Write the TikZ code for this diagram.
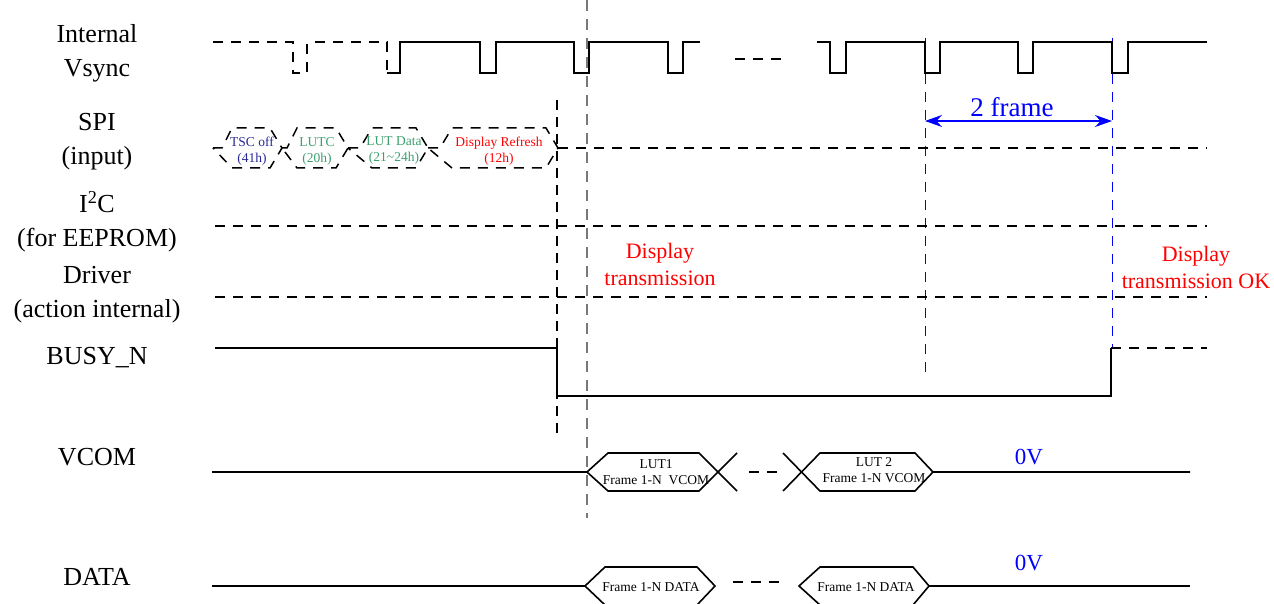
\documentclass[tikz,border=0pt]{standalone}
\usepackage{fontspec}
\setmainfont{Liberation Serif}
\usepackage{xcolor}
\usetikzlibrary{positioning, arrows.meta}
\definecolor{spinavy}{RGB}{40,40,150}
\definecolor{spigreen}{RGB}{60,160,110}
\definecolor{guidegray}{RGB}{120,120,120}

\begin{document}
\begin{tikzpicture}[x=1pt, y=-1pt,
  lbl/.style={font=\fontsize{26}{34}\selectfont, align=center},
  wave/.style={line width=1.6pt},
  dwave/.style={line width=1.5pt, dash pattern=on 10pt off 8pt},
  hextext/.style={font=\fontsize{13.5}{16}\selectfont, align=center},
  note/.style={font=\fontsize{22}{27}\selectfont, align=center, red},
  volt/.style={font=\fontsize{23}{27}\selectfont, blue},
  blueguide/.style={blue, line width=1pt, dash pattern=on 10pt off 8pt}]
\useasboundingbox (0,0) rectangle (1274,604);

% Signal names
\node[lbl] (vs) at (97,53) {Internal\\Vsync};
\node[lbl] (spi) at (97,142) {SPI\\(input)};
\node[lbl] (i2c) at (97,222) {I\textsuperscript{2}C\\(for EEPROM)};
\node[lbl] (drv) at (97,295) {Driver\\(action internal)};
\node[lbl] (busy) at (97,358) {BUSY\_N};
\node[lbl] (vcom) at (97,457) {VCOM};
\node[lbl] (data) at (97,577) {DATA};

% Guide lines
\draw[guidegray, line width=1.3pt, dash pattern=on 11pt off 8pt] (587,0) -- (587,518);
\draw[line width=1.2pt, dash pattern=on 10pt off 7pt] (557,100) -- (557,438);
\draw[blueguide] (925,38) -- (925,375);
\draw[blueguide] (1112,38) -- (1112,348);

% Internal Vsync
\draw[dwave] (213,42) -- (293,42) -- (293,73) -- (302,73);
\draw[dwave] (307,44) -- (307,73);
\draw[dwave] (315,42) -- (387,42) -- (387,73);
\draw[wave] (387,73) -- (400,73) -- (400,42) -- (480,42) -- (480,73) -- (496,73) -- (496,42)
  -- (574,42) -- (574,73) -- (589,73) -- (589,42) -- (668,42) -- (668,73) -- (683,73)
  -- (683,42) -- (700,42);
\draw[dwave] (735,59) -- (785,59);
\draw[wave] (817,42) -- (830,42) -- (830,73) -- (846,73) -- (846,42) -- (925,42) -- (925,73)
  -- (940,73) -- (940,42) -- (1018,42) -- (1018,73) -- (1033,73) -- (1033,42) -- (1112,42)
  -- (1112,73) -- (1128,73) -- (1128,42) -- (1207,42);

% 2 frame
\draw[blue, line width=1.3pt, {Stealth[length=17pt,width=12pt]}-{Stealth[length=17pt,width=12pt]}] (925,121) -- (1112,121);
\node[font=\fontsize{27}{30}\selectfont, blue] (frm) at (1012,107) {2 frame};

% SPI commands
\draw[dwave] (213,148) -- (222,148) -- (232,128) -- (270,128) -- (282,148) -- (270,168) -- (232,168) -- cycle;
\draw[dwave] (282,148) -- (287,148) -- (297,128) -- (336,128) -- (348,148) -- (336,168) -- (297,168) -- cycle;
\draw[dwave] (348,148) -- (360,148) -- (372,128) -- (416,128) -- (428,148) -- (416,168) -- (372,168) -- cycle;
\draw[dwave] (428,148) -- (440,148) -- (452,128) -- (546,128) -- (558,148) -- (546,168) -- (452,168) -- cycle;
\draw[dwave] (558,148) -- (1207,148);
\node[hextext, spinavy] (tsc) at (252,151) {TSC off\\(41h)};
\node[hextext, spigreen] (lutc) at (317,151) {LUTC\\(20h)};
\node[hextext, spigreen] (lutd) at (394,151) {LUT Data\\(21\textasciitilde24h)};
\node[hextext, red] (refr) at (499,151) {Display Refresh\\(12h)};

% I2C and driver
\draw[dwave] (215,226) -- (1207,226);
\draw[dwave] (215,297) -- (1207,297);
\node[note] (tx) at (660,264) {Display\\transmission};
\node[note] (txok) at (1196,267) {Display\\transmission OK};

% BUSY_N
\draw[wave] (215,348) -- (557,348) -- (557,396) -- (1111,396) -- (1111,348);
\draw[dwave] (1111,348) -- (1207,348);

% VCOM
\draw[wave] (212,472) -- (587,472) -- (608,453) -- (699,453) -- (737,491);
\draw[wave] (587,472) -- (608,491) -- (699,491) -- (737,453);
\draw[dwave] (749,472) -- (781,472);
\draw[wave] (783,453) -- (820,491) -- (915,491) -- (933,472) -- (1190,472);
\draw[wave] (783,491) -- (820,453) -- (915,453) -- (933,472);
\node[hextext] (lut1) at (656,472) {LUT1\\Frame 1-N\ \ VCOM};
\node[hextext] (lut2) at (874,470) {LUT 2\\Frame 1-N VCOM};
\node[volt] (ov1) at (1029,457) {0V};

% DATA
\draw[wave] (212,586) -- (585,586);
\draw[wave] (585,586) -- (605,567) -- (697,567) -- (715,586) -- (697,605) -- (605,605) -- cycle;
\draw[dwave] (733,582) -- (781,582);
\draw[wave] (799,586) -- (820,567) -- (913,567) -- (929,586) -- (913,605) -- (820,605) -- cycle;
\draw[wave] (929,586) -- (1190,586);
\node[hextext] (fd1) at (651,587) {Frame 1-N DATA};
\node[hextext] (fd2) at (866,587) {Frame 1-N DATA};
\node[volt] (ov2) at (1029,563) {0V};
\end{tikzpicture}
\end{document}
